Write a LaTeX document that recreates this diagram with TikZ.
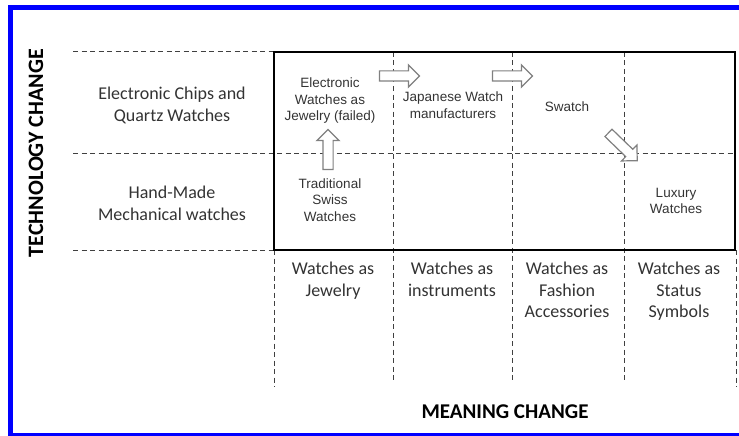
\documentclass[tikz,border=0pt]{standalone}
\usepackage{fontspec}
\setmainfont{Liberation Sans}
\newfontfamily\calibri{Carlito}
\usetikzlibrary{shapes.arrows}

\begin{document}
\begin{tikzpicture}[
  x=1pt,
  y=-1pt,
  grid line/.style={
    draw,
    black!75,
    dash pattern=on 5pt off 3.5pt,
    line width=1pt
  },
  row label/.style={
    align=center,
    text=black!80,
    inner sep=0pt,
    font=\calibri\fontsize{18}{22}\selectfont
  },
  col label/.style={
    row label,
    anchor=north,
    font=\calibri\fontsize{18}{21.5}\selectfont
  },
  axis title/.style={
    inner sep=0pt,
    font=\calibri\bfseries\fontsize{21}{24}\selectfont
  },
  cell text/.style={
    align=center,
    text=black!80,
    inner sep=0pt,
    font=\fontsize{13.5}{16.5}\selectfont
  },
  block arrow/.style={
    single arrow,
    draw=black!50,
    fill=white,
    line width=1.2pt,
    inner sep=4.5pt,
    single arrow head extend=6pt,
    minimum height=40pt
  },
]
\useasboundingbox (0,0) rectangle (739,436);
% frame
\fill[blue] (8,5) rectangle (739,10);
\fill[blue] (8,5) rectangle (13,436);
\fill[blue] (8,433) rectangle (739,436);

% grid
\draw[grid line] (73,52) -- (274,52);
\draw[grid line] (73,153) -- (735,153);
\draw[grid line] (73,250) -- (274,250);
\foreach \x in {393,512,624}
  \draw[grid line] (\x,52) -- (\x,380);
\draw[grid line] (274,250) -- (274,387);
\draw[grid line] (736,250) -- (736,387);
\draw[line width=1.8pt] (274,52) rectangle (735,250);

% axes
\node[axis title, rotate=90, font=\calibri\bfseries\fontsize{22}{24}\selectfont] (techchange) at (36,153) {TECHNOLOGY CHANGE};
\node[axis title] (meaningchange) at (505,412) {MEANING CHANGE};

% rows
\node[row label] (quartz) at (172,105) {Electronic Chips and\\Quartz Watches};
\node[row label] (mechanical) at (172,203) {Hand-Made\\Mechanical watches};

% columns
\node[col label] (jewelry) at (333,262) {Watches as\\Jewelry};
\node[col label] (instruments) at (452,262) {Watches as\\instruments};
\node[col label] (fashion) at (567,262) {Watches as\\Fashion\\Accessories};
\node[col label] (status) at (679,262) {Watches as\\Status\\Symbols};

% cells
\node[cell text] (electronic) at (330,101) {Electronic\\Watches as\\Jewelry (failed)};
\node[cell text] (swiss) at (330,200) {Traditional\\Swiss\\Watches};
\node[cell text] (japanese) at (453,105) {Japanese Watch\\manufacturers};
\node[cell text] (swatch) at (567,107) {Swatch};
\node[cell text] (luxury) at (676,201) {Luxury\\Watches};

% moves
\node[block arrow, rotate=90] (up) at (328,152) {};
\node[block arrow] (right1) at (397,76) {};
\node[block arrow] (right2) at (510,76) {};
\node[block arrow, rotate=-44] (down) at (621,145) {};
\end{tikzpicture}
\end{document}
